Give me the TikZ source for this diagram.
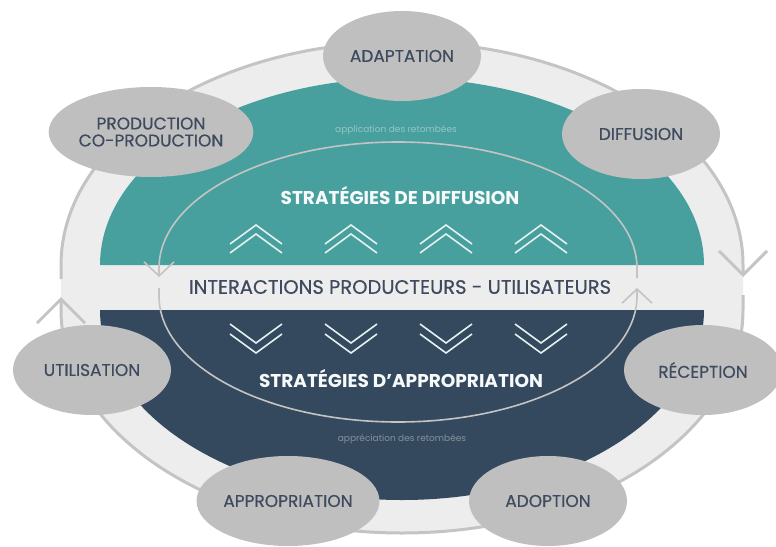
\documentclass[tikz,border=0pt]{standalone}
\usepackage{fontspec}
\setmainfont{Poppins}
\newfontfamily\midfont{Poppins}[FakeBold=0.5]
\usetikzlibrary{arrows.meta,shapes.geometric}

\definecolor{diffteal}{HTML}{48A09E}
\definecolor{approblue}{HTML}{34495E}
\definecolor{ringgrey}{HTML}{EDEDED}
\definecolor{ringline}{HTML}{C4C4C4}
\definecolor{stagegrey}{HTML}{BFBFBF}
\definecolor{labeltext}{HTML}{3E4A5E}

\begin{document}
\begin{tikzpicture}[
    x=1pt, y=-1pt,
    align=center,
    stage/.style={ellipse, fill=stagegrey, minimum width=158pt,
      minimum height=90pt, inner sep=0pt, text=labeltext,
      font=\midfont\fontsize{17}{17}\selectfont},
    outerring/.style={ringline, line width=3pt,
      -{Straight Barb[length=24pt,width=48pt]}},
    innerring/.style={ringline, line width=1.6pt,
      -{Straight Barb[length=14pt,width=30pt]}},
    chev/.style={white!85!diffteal, line width=1.6pt},
    strat/.style={text=white!95!diffteal, font=\bfseries\fontsize{18.5}{20}\selectfont},
    retomb/.style={text=white, opacity=0.4, font=\fontsize{9}{10}\selectfont}
  ]

  \useasboundingbox (0,0) rectangle (776,546);

  % the grey ring and the two half discs

  \fill[ringgrey] (61,265) arc[start angle=180, end angle=360, x radius=341, y radius=223]
                  -- (743,310) arc[start angle=0, end angle=180, x radius=341, y radius=223]
                  -- cycle;
  \fill[diffteal] (100,265) arc[start angle=180, end angle=360, x radius=302, y radius=187]
                  -- cycle;
  \fill[approblue] (100,310) arc[start angle=180, end angle=0, x radius=302, y radius=190]
                  -- cycle;

  \foreach \cx in {256,351,446,541} {
    \draw[chev] (\cx-26,244) -- (\cx,225) -- (\cx+26,244);
    \draw[chev] (\cx-26,253) -- (\cx,234) -- (\cx+26,253);
    \draw[chev] (\cx-26,324) -- (\cx,343) -- (\cx+26,324);
    \draw[chev] (\cx-26,334) -- (\cx,353) -- (\cx+26,334);
  }

  % the two cycles

  \draw[innerring] (637,278) -- (637,268)
                   arc[start angle=0, end angle=-180, x radius=239, y radius=126]
                   -- (159,277);
  \draw[innerring] (159,288) -- (159,296)
                   arc[start angle=180, end angle=0, x radius=239, y radius=126]
                   -- (637,288);

  \draw[outerring] (61,279) -- (61,265)
                   arc[start angle=180, end angle=360, x radius=341, y radius=223]
                   -- (743,277);
  \draw[outerring] (743,295) -- (743,310)
                   arc[start angle=0, end angle=180, x radius=341, y radius=223]
                   -- (61,297);

  % texts in the middle

  \node (stratdiff) [strat] at (400,196) {STRATÉGIES DE DIFFUSION};
  \node (stratappr) [strat] at (401,379) {STRATÉGIES D'APPROPRIATION};
  \node (interact) [text=labeltext, font=\midfont\fontsize{19.5}{20}\selectfont]
                   at (400,287) {INTERACTIONS PRODUCTEURS - UTILISATEURS};
  \node (applic)   [retomb] at (396,130) {application des retombées};
  \node (apprec)   [retomb] at (402,439) {appréciation des retombées};

  % the stages round the ring

  \node (adapt)  [stage] at (402,56)  {ADAPTATION};
  \node (diff)   [stage] at (641,134) {DIFFUSION};
  \node (recep)  [stage] at (703,370) {RÉCEPTION};
  \node (adopt)  [stage] at (548,501) {ADOPTION};
  \node (approp) [stage] at (288,501) {APPROPRIATION};
  \node (util)   [stage] at (92,370)  {UTILISATION};
  \node (prod)   [stage] at (151,132) {PRODUCTION\\CO-PRODUCTION};

\end{tikzpicture}
\end{document}
